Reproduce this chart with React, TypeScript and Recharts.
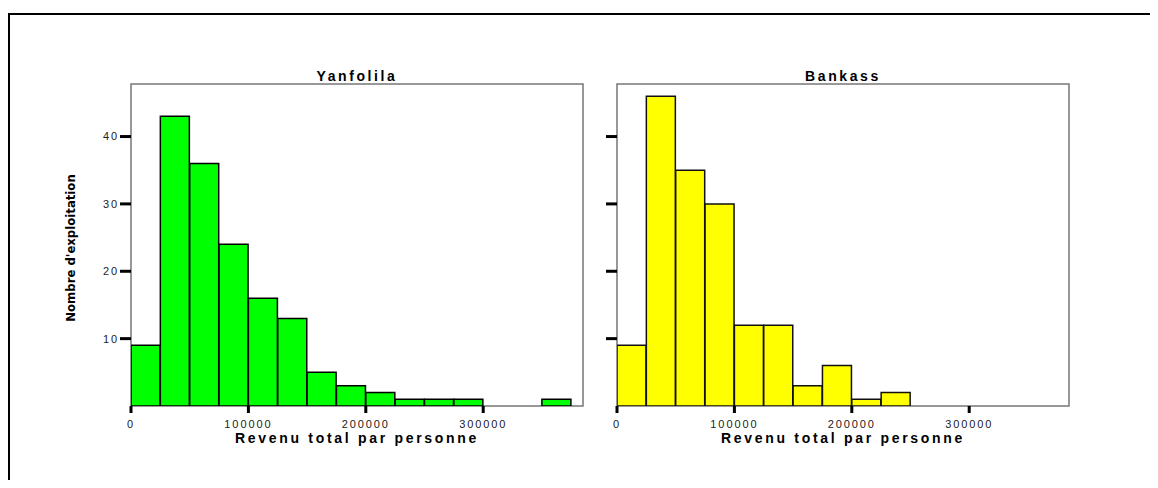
import React from "react";
import { BarChart, Bar, XAxis, YAxis, ReferenceArea } from "recharts";

// histogram bins of 25000
const binCenters = [12500, 37500, 62500, 87500, 112500, 137500, 162500, 187500, 212500, 237500, 262500, 287500, 312500, 337500, 362500];
const yanfolilaCounts = [9, 43, 36, 24, 16, 13, 5, 3, 2, 1, 1, 1, 0, 0, 1];
const bankassCounts = [9, 46, 35, 30, 12, 12, 3, 6, 1, 2];
const xTicks = [0, 100000, 200000, 300000];
const yTicks = [10, 20, 30, 40];
const panelTitles = ["Yanfolila", "Bankass"];
const xLabel = "Revenu total par personne";
const yLabel = "Nombre d'exploitation";

const X_MAX = 385000;
const Y_MAX = 47.8;
const ARIAL = "'Liberation Sans', Arial, sans-serif";

const tickStyle = { fontSize: 11, fill: "#222", fontFamily: ARIAL, letterSpacing: 1.9 };

interface PanelProps {
  counts: number[];
  fill: string;
  stroke: string;
  showYLabels: boolean;
  left: number;
}

function Panel({ counts, fill, stroke, showYLabels, left }: PanelProps) {
  const data = counts.map((c, i) => ({ mid: binCenters[i], count: c }));
  return (
    <div style={{ position: "absolute", left, top: 56 }}>
      <BarChart
        width={522}
        height={372}
        data={data}
        margin={{ top: 20, right: 10, bottom: 0, left: 0 }}
        barCategoryGap={0}
        barGap={0}
      >
        <XAxis
          type="number"
          dataKey="mid"
          domain={[0, X_MAX]}
          ticks={xTicks}
          interval={0}
          allowDataOverflow
          axisLine={false}
          tickLine={{ stroke: "#000", strokeWidth: 3 }}
          tickSize={7}
          tickMargin={7}
          tick={tickStyle}
          height={30}
        />
        <YAxis
          type="number"
          domain={[0, Y_MAX]}
          ticks={yTicks}
          interval={0}
          allowDataOverflow
          axisLine={false}
          tickLine={{ stroke: "#000", strokeWidth: 3 }}
          tickSize={11}
          tickMargin={1}
          tick={tickStyle}
          tickFormatter={(v: number) => (showYLabels ? String(v) : "")}
          width={60}
        />
        <ReferenceArea x1={0} x2={X_MAX} y1={0} y2={Y_MAX} fill="none" stroke="#777" strokeWidth={1.5} />
        <Bar dataKey="count" fill={fill} stroke={stroke} strokeWidth={1.5} isAnimationActive={false} />
      </BarChart>
    </div>
  );
}

export default function App() {
  return (
    <div style={{ position: "relative", width: 1142, height: 472, overflow: "hidden", background: "#fff" }}>
      <div
        style={{
          position: "absolute",
          left: 0,
          top: 5,
          width: 1200,
          height: 600,
          borderTop: "2px solid #000",
          borderLeft: "2px solid #000",
        }}
      />
      <Panel counts={yanfolilaCounts} fill="#00ff00" stroke="#000" showYLabels left={63} />
      <Panel counts={bankassCounts} fill="#ffff00" stroke="#111" showYLabels={false} left={549} />
      <svg width={1142} height={472} style={{ position: "absolute", left: 0, top: 0, pointerEvents: "none" }}>
        <text x={349} y={73} textAnchor="middle" fontFamily={ARIAL} fontWeight="bold" fontSize={14} letterSpacing={2.6} fill="#000">
          {panelTitles[0]}
        </text>
        <text x={835} y={73} textAnchor="middle" fontFamily={ARIAL} fontWeight="bold" fontSize={14} letterSpacing={2.6} fill="#000">
          {panelTitles[1]}
        </text>
        <text x={349} y={435} textAnchor="middle" fontFamily={ARIAL} fontWeight="bold" fontSize={14} letterSpacing={2.7} fill="#000">
          {xLabel}
        </text>
        <text x={835} y={435} textAnchor="middle" fontFamily={ARIAL} fontWeight="bold" fontSize={14} letterSpacing={2.7} fill="#000">
          {xLabel}
        </text>
        <text
          x={67}
          y={240}
          transform="rotate(-90 67 240)"
          textAnchor="middle"
          fontFamily="'Liberation Sans Narrow', 'DejaVu Sans Condensed', sans-serif"
          fontWeight="bold"
          fontSize={13}
          fill="#000"
        >
          {yLabel}
        </text>
      </svg>
    </div>
  );
}
